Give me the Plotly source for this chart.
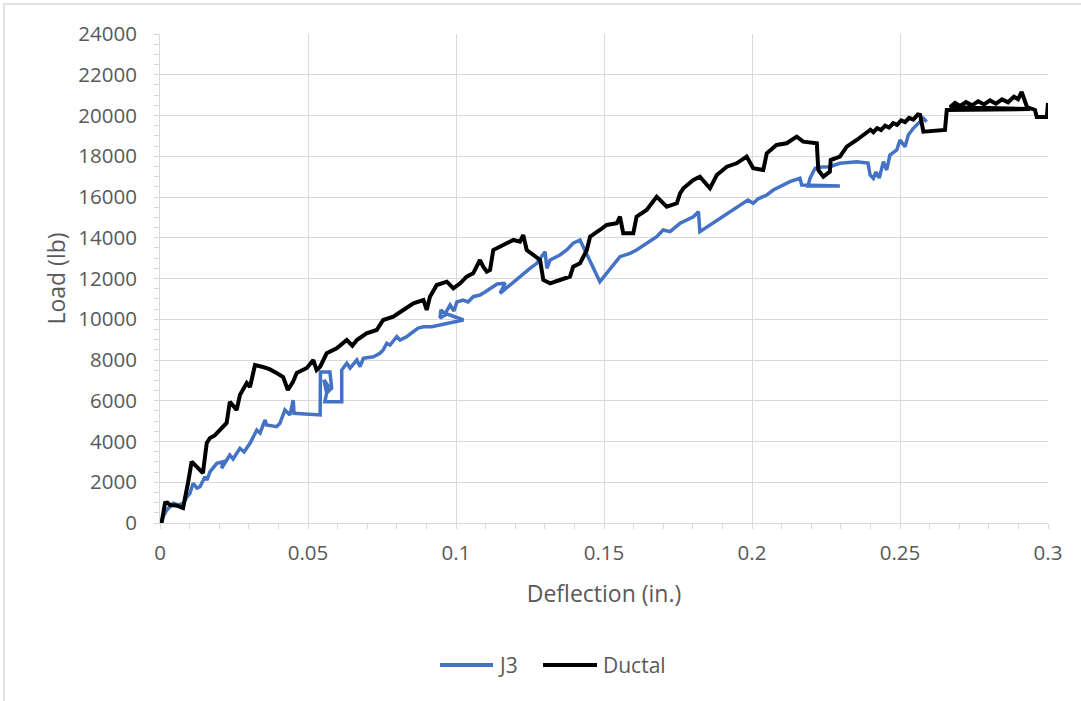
import plotly.graph_objects as go

# Load-deflection readings, J3 specimen
j3_defl = [0.0002, 0.0010, 0.0023, 0.0045, 0.0061, 0.0079, 0.0091, 0.0101, 0.0112, 0.0125,
           0.0135, 0.0152, 0.0159, 0.0169, 0.0192, 0.0214, 0.0208, 0.0220, 0.0236, 0.0247,
           0.0270, 0.0284, 0.0304, 0.0327, 0.0338, 0.0355, 0.0360, 0.0394, 0.0405, 0.0422,
           0.0439, 0.0450, 0.0453, 0.0541, 0.0542, 0.0574, 0.0580, 0.0563, 0.0554, 0.0568,
           0.0557, 0.0614, 0.0614, 0.0631, 0.0642, 0.0665, 0.0676, 0.0687, 0.0721, 0.0743,
           0.0754, 0.0766, 0.0777, 0.0800, 0.0811, 0.0833, 0.0856, 0.0872, 0.0890, 0.0918,
           0.1025, 0.0970, 0.0946, 0.0949, 0.0963, 0.0980, 0.0993, 0.1003, 0.1024, 0.1041,
           0.1058, 0.1081, 0.1098, 0.1115, 0.1139, 0.1166, 0.1149, 0.1250, 0.1273, 0.1301,
           0.1307, 0.1318, 0.1351, 0.1374, 0.1396, 0.1419, 0.1430, 0.1486, 0.1554, 0.1588,
           0.1610, 0.1644, 0.1678, 0.1700, 0.1723, 0.1757, 0.1779, 0.1802, 0.1819, 0.1824,
           0.1986, 0.2004, 0.2020, 0.2050, 0.2072, 0.2106, 0.2128, 0.2162, 0.2168, 0.2297,
           0.2189, 0.2196, 0.2213, 0.2236, 0.2263, 0.2297, 0.2354, 0.2392, 0.2399, 0.2410,
           0.2419, 0.2430, 0.2444, 0.2455, 0.2466, 0.2489, 0.2500, 0.2517, 0.2528, 0.2545,
           0.2562, 0.2579, 0.2590]
j3_load = [0, 294, 638, 967, 883, 967, 1276, 1458, 1949, 1718,
           1782, 2272, 2110, 2518, 2930, 3009, 2685, 2994, 3337, 3141,
           3666, 3485, 3912, 4564, 4417, 5055, 4810, 4726, 4893, 5546,
           5301, 6037, 5384, 5301, 7411, 7411, 6626, 6380, 7018, 6724,
           5953, 5953, 7509, 7838, 7607, 8000, 7671, 8083, 8162, 8329,
           8491, 8820, 8736, 9144, 8982, 9144, 9389, 9571, 9635, 9635,
           9963, 10258, 10061, 10454, 10258, 10699, 10405, 10847, 10945, 10847,
           11107, 11190, 11337, 11519, 11730, 11765, 11274, 12501, 12746, 13316,
           12501, 12908, 13153, 13399, 13728, 13890, 13561, 11843, 13070, 13237,
           13399, 13728, 14052, 14380, 14297, 14709, 14871, 15033, 15279, 14297,
           15853, 15691, 15902, 16098, 16343, 16589, 16751, 16918, 16589, 16540,
           16540, 16918, 17409, 17472, 17487, 17654, 17733, 17669, 17080, 16918,
           17227, 16933, 17733, 17325, 18061, 18307, 18798, 18469, 19043, 19372,
           19617, 19863, 19696]

# Load-deflection readings, Ductal specimen
ductal_defl = [0.0000, 0.0006, 0.0017, 0.0025, 0.0034, 0.0055, 0.0078, 0.0088, 0.0095, 0.0107,
               0.0122, 0.0135, 0.0145, 0.0158, 0.0169, 0.0185, 0.0203, 0.0225, 0.0236, 0.0259,
               0.0270, 0.0293, 0.0304, 0.0321, 0.0348, 0.0370, 0.0394, 0.0416, 0.0432, 0.0449,
               0.0462, 0.0496, 0.0518, 0.0529, 0.0541, 0.0563, 0.0597, 0.0631, 0.0650, 0.0665,
               0.0698, 0.0732, 0.0754, 0.0788, 0.0822, 0.0856, 0.0890, 0.0901, 0.0912, 0.0935,
               0.0969, 0.0991, 0.1014, 0.1036, 0.1058, 0.1081, 0.1092, 0.1104, 0.1115, 0.1126,
               0.1171, 0.1194, 0.1216, 0.1227, 0.1239, 0.1261, 0.1284, 0.1295, 0.1318, 0.1351,
               0.1385, 0.1396, 0.1419, 0.1442, 0.1453, 0.1486, 0.1509, 0.1543, 0.1554, 0.1565,
               0.1599, 0.1610, 0.1644, 0.1678, 0.1712, 0.1746, 0.1757, 0.1768, 0.1802, 0.1824,
               0.1858, 0.1881, 0.1915, 0.1948, 0.1982, 0.2004, 0.2038, 0.2050, 0.2083, 0.2117,
               0.2151, 0.2173, 0.2219, 0.2224, 0.2241, 0.2263, 0.2266, 0.2297, 0.2320, 0.2354,
               0.2387, 0.2400, 0.2410, 0.2423, 0.2436, 0.2450, 0.2463, 0.2477, 0.2490, 0.2504,
               0.2517, 0.2531, 0.2545, 0.2560, 0.2568, 0.2579, 0.2652, 0.2658, 0.2939, 0.2669,
               0.2686, 0.2703, 0.2723, 0.2743, 0.2764, 0.2784, 0.2804, 0.2824, 0.2845, 0.2865,
               0.2885, 0.2899, 0.2911, 0.2919, 0.2929, 0.2956, 0.2962, 0.2996, 0.3000]
ductal_load = [0, 50, 982, 1000, 883, 860, 736, 1374, 2000, 3009,
               2798, 2600, 2454, 3926, 4172, 4300, 4564, 4908, 5953, 5546,
               6282, 6871, 6675, 7755, 7656, 7550, 7362, 7166, 6528, 6920,
               7362, 7607, 8000, 7509, 7671, 8329, 8574, 8982, 8700, 8982,
               9311, 9472, 9963, 10125, 10454, 10783, 10945, 10454, 11107, 11681,
               11843, 11519, 11765, 12089, 12255, 12908, 12579, 12334, 12417, 13399,
               13728, 13890, 13806, 14135, 13399, 13153, 12908, 11926, 11765, 11926,
               12089, 12579, 12746, 13399, 14052, 14381, 14626, 14709, 15033, 14218,
               14218, 15033, 15362, 16015, 15524, 15691, 16182, 16427, 16834, 16997,
               16427, 17080, 17487, 17654, 17978, 17409, 17325, 18145, 18552, 18636,
               18960, 18714, 18636, 17325, 16997, 17242, 17816, 17978, 18469, 18798,
               19127, 19300, 19180, 19380, 19290, 19500, 19410, 19620, 19540, 19760,
               19680, 19880, 19800, 20050, 20025, 19205, 19289, 20270, 20319, 20417,
               20614, 20470, 20660, 20500, 20700, 20540, 20740, 20580, 20790, 20650,
               20920, 20800, 21153, 20860, 20417, 20270, 19927, 19927, 20614]

series_names = ["J3", "Ductal"]
series_colors = ["#4472C4", "#000000"]

GRID = "#d9d9d9"
TEXT = "#595959"
FONT = "Open Sans"

fig = go.Figure()
fig.add_trace(go.Scatter(x=j3_defl, y=j3_load, mode="lines", name=series_names[0],
                         line=dict(color=series_colors[0], width=3.5), showlegend=False))
fig.add_trace(go.Scatter(x=ductal_defl, y=ductal_load, mode="lines", name=series_names[1],
                         line=dict(color=series_colors[1], width=4), showlegend=False))

axis_common = dict(
    showgrid=True, gridcolor=GRID, gridwidth=1,
    showline=True, linecolor=GRID, linewidth=1,
    ticks="outside", ticklen=5, tickcolor=GRID,
    zeroline=False,
    tickfont=dict(family=FONT, size=20.5, color=TEXT),
)

fig.update_xaxes(
    range=[0, 0.3], dtick=0.05, tick0=0,
    minor=dict(dtick=0.01, ticks="outside", ticklen=5, tickcolor=GRID, showgrid=False),
    title=dict(text="Deflection (in.)", font=dict(family=FONT, size=23, color=TEXT), standoff=21),
    ticklabelstandoff=6,
    **axis_common,
)
fig.update_yaxes(
    range=[0, 24000], dtick=2000, tick0=0, tickformat="d",
    minor=dict(dtick=500, ticks="outside", ticklen=5, tickcolor=GRID, showgrid=False),
    title=dict(text="Load (lb)", font=dict(family=FONT, size=23, color=TEXT), standoff=6),
    ticklabelstandoff=13,
    **axis_common,
)

# Chart frame
shapes = [dict(type="rect", xref="paper", yref="paper",
               x0=(4 - 160) / 888, x1=2.0, y0=-2.0, y1=(523 - 4) / 489,
               line=dict(color=GRID, width=1.5), fillcolor="rgba(0,0,0,0)", layer="below")]

# Legend drawn below the plot area
annotations = []
legend_y = (523 - 665) / 489
legend_items = [(440, 493, 496), (543, 597, 601)]
for (x0, x1, xt), name, color in zip(legend_items, series_names, series_colors):
    shapes.append(dict(type="line", xref="paper", yref="paper",
                       x0=(x0 - 160) / 888, x1=(x1 - 160) / 888, y0=legend_y, y1=legend_y,
                       line=dict(color=color, width=4)))
    annotations.append(dict(xref="paper", yref="paper", x=(xt - 160) / 888, y=legend_y,
                            xanchor="left", yanchor="middle", showarrow=False, text=name,
                            font=dict(family=FONT, size=21, color=TEXT)))

fig.update_layout(
    width=1081, height=701,
    margin=dict(l=160, r=33, t=34, b=178),
    paper_bgcolor="white", plot_bgcolor="white",
    shapes=shapes, annotations=annotations,
    showlegend=False,
)

fig.write_html("out.html")
